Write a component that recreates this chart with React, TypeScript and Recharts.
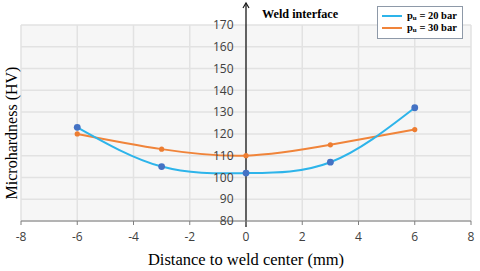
import React from "react";
import {
  LineChart,
  Line,
  XAxis,
  YAxis,
  CartesianGrid,
  ReferenceLine,
  Legend,
} from "recharts";

const distances = [-6, -3, 0, 3, 6];
const hv20 = [123, 105, 102, 107, 132];
const hv30 = [120, 113, 110, 115, 122];
const xTicks = [-8, -6, -4, -2, 0, 2, 4, 6, 8];
const yTicks = [80, 90, 100, 110, 120, 130, 140, 150, 160, 170];

const W = 480;
const H = 271;
const M = { top: 25, right: 9, bottom: 0, left: 20 };
const PLOT_W = W - M.left - M.right;

const data = distances.map((x, i) => ({ x, p20: hv20[i], p30: hv30[i] }));

const BLUE = "#2DB4EA";
const BLUE_DOT = "#4472C4";
const ORANGE = "#F0843A";
const ORANGE_DOT = "#ED7D31";
const SERIF = "'Liberation Serif', 'Times New Roman', serif";
const SANS = "'Open Sans', 'DejaVu Sans', sans-serif";

// y tick labels sit next to the weld-interface axis in the middle of the plot
const renderCenterTick = (props: any) => {
  const { y, payload, index } = props;
  return (
    <text
      key={index}
      x={M.left + PLOT_W / 2 - 12}
      y={y}
      dy="0.35em"
      textAnchor="end"
      fill="#404040"
      fontFamily={SANS}
      fontSize={12}
    >
      {payload.value}
    </text>
  );
};

function InterfaceArrow(props: any) {
  const { x1, y1, y2 } = props;
  const top = Math.min(y1, y2) - 22;
  const bottom = Math.max(y1, y2) + 6;
  return (
    <g>
      <line x1={x1} y1={top} x2={x1} y2={bottom} stroke="#1a1a1a" strokeWidth={1.3} />
      <path
        d={`M${x1 - 3},${top + 5} L${x1},${top} L${x1 + 3},${top + 5}`}
        fill="none"
        stroke="#1a1a1a"
        strokeWidth={1.2}
      />
      <text
        x={x1 + 16}
        y={top + 15}
        fontFamily={SERIF}
        fontWeight="bold"
        fontSize={12.2}
        fill="#000"
      >
        Weld interface
      </text>
    </g>
  );
}

function LegendBox() {
  const rows = [
    { color: BLUE, p: "20" },
    { color: ORANGE, p: "30" },
  ];
  return (
    <div
      style={{
        width: 84,
        height: 31,
        background: "#fff",
        border: "1px solid #8E99A8",
        boxSizing: "content-box",
        padding: 0,
      }}
    >
      {rows.map((r) => (
        <div
          key={r.p}
          style={{ display: "flex", alignItems: "center", height: 12, marginTop: r.p === "20" ? 3 : 0 }}
        >
          <span
            style={{ display: "inline-block", width: 20, height: 2, background: r.color, marginLeft: 4, marginRight: 5 }}
          />
          <span
            style={{ fontFamily: SERIF, fontWeight: "bold", fontSize: 10.5, color: "#000", whiteSpace: "nowrap" }}
          >
            p<sub style={{ fontSize: 7, verticalAlign: "-1px" }}>u</sub> = {r.p} bar
          </span>
        </div>
      ))}
    </div>
  );
}

export default function App() {
  return (
    <div style={{ position: "absolute", left: 0, top: 0, width: W, height: H, background: "#fff" }}>
      <LineChart width={W} height={H} data={data} margin={M}>
        <CartesianGrid fill="#F6F6F6" stroke="#E2E2E2" strokeWidth={1.5} />
        <XAxis
          type="number"
          dataKey="x"
          domain={[-8, 8]}
          ticks={xTicks}
          interval={0}
          height={50}
          stroke="#7F7F7F"
          tickSize={4}
          tickMargin={7}
          tick={{ fill: "#404040", fontFamily: SANS, fontSize: 12 }}
          label={{
            value: "Distance to weld center (mm)",
            position: "insideBottom",
            offset: 6,
            fill: "#000",
            fontFamily: SERIF,
            fontSize: 16.5,
          }}
        />
        <YAxis
          type="number"
          domain={[80, 170]}
          ticks={yTicks}
          interval={0}
          width={1}
          axisLine={false}
          tickLine={false}
          tickSize={0}
          tick={renderCenterTick}
        />
        <ReferenceLine x={0} ifOverflow="visible" shape={<InterfaceArrow />} />
        <Legend
          layout="vertical"
          align="center"
          verticalAlign="middle"
          content={() => <LegendBox />}
          wrapperStyle={{ top: 6, left: 377, width: 86, height: 33 }}
        />
        <Line
          type="natural"
          dataKey="p30"
          stroke={ORANGE}
          strokeWidth={2}
          dot={{ r: 2.6, fill: ORANGE_DOT, stroke: ORANGE_DOT, strokeWidth: 0 }}
          isAnimationActive={false}
        />
        <Line
          type="natural"
          dataKey="p20"
          stroke={BLUE}
          strokeWidth={2}
          dot={{ r: 3.4, fill: BLUE_DOT, stroke: BLUE_DOT, strokeWidth: 0 }}
          isAnimationActive={false}
        />
      </LineChart>
      <div
        style={{
          position: "absolute",
          left: 12,
          top: 133,
          transform: "translate(-50%, -50%) rotate(-90deg)",
          fontFamily: SERIF,
          fontSize: 16,
          whiteSpace: "nowrap",
          color: "#000",
        }}
      >
        Microhardness (HV)
      </div>
    </div>
  );
}
